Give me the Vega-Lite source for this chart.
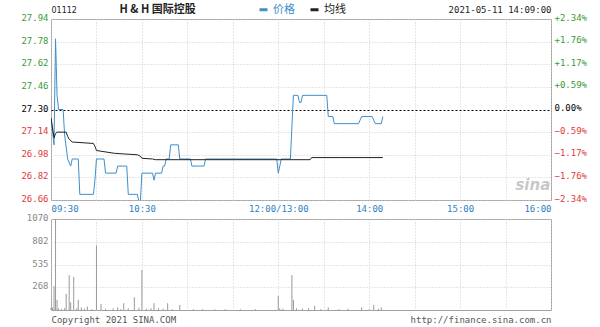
{
  "$schema": "https://vega.github.io/schema/vega-lite/v6.json",
  "background": "white",
  "padding": {"left": 20, "top": 2, "right": 0, "bottom": 0},
  "bounds": "flush",
  "spacing": 19,
  "config": {
    "view": {"stroke": "#a0a0a0", "strokeWidth": 1},
    "axis": {"domain": false, "ticks": false, "labelFont": "DejaVu Sans Mono", "labelFontSize": 9, "gridColor": "#cccccc", "gridDash": [1, 2], "title": null}
  },
  "datasets": {
    "price": [
      {"m": 0, "p": 27.24, "s": "价格"},
      {"m": 1, "p": 27.15, "s": "价格"},
      {"m": 2, "p": 27.05, "s": "价格"},
      {"m": 3, "p": 27.80, "s": "价格"},
      {"m": 4, "p": 27.40, "s": "价格"},
      {"m": 5, "p": 27.30, "s": "价格"},
      {"m": 8, "p": 27.30, "s": "价格"},
      {"m": 9, "p": 27.12, "s": "价格"},
      {"m": 11, "p": 26.95, "s": "价格"},
      {"m": 13, "p": 26.90, "s": "价格"},
      {"m": 14, "p": 26.95, "s": "价格"},
      {"m": 18, "p": 26.95, "s": "价格"},
      {"m": 19, "p": 26.70, "s": "价格"},
      {"m": 28, "p": 26.70, "s": "价格"},
      {"m": 29, "p": 26.80, "s": "价格"},
      {"m": 30, "p": 26.95, "s": "价格"},
      {"m": 35, "p": 26.95, "s": "价格"},
      {"m": 36, "p": 26.85, "s": "价格"},
      {"m": 43, "p": 26.85, "s": "价格"},
      {"m": 44, "p": 26.90, "s": "价格"},
      {"m": 50, "p": 26.90, "s": "价格"},
      {"m": 51, "p": 26.70, "s": "价格"},
      {"m": 57, "p": 26.70, "s": "价格"},
      {"m": 58, "p": 26.65, "s": "价格"},
      {"m": 59, "p": 26.65, "s": "价格"},
      {"m": 60, "p": 26.85, "s": "价格"},
      {"m": 67, "p": 26.85, "s": "价格"},
      {"m": 68, "p": 26.80, "s": "价格"},
      {"m": 69, "p": 26.85, "s": "价格"},
      {"m": 73, "p": 26.85, "s": "价格"},
      {"m": 74, "p": 26.90, "s": "价格"},
      {"m": 75, "p": 26.90, "s": "价格"},
      {"m": 76, "p": 26.95, "s": "价格"},
      {"m": 78, "p": 26.95, "s": "价格"},
      {"m": 79, "p": 27.05, "s": "价格"},
      {"m": 84, "p": 27.05, "s": "价格"},
      {"m": 85, "p": 26.95, "s": "价格"},
      {"m": 92, "p": 26.95, "s": "价格"},
      {"m": 93, "p": 26.90, "s": "价格"},
      {"m": 101, "p": 26.90, "s": "价格"},
      {"m": 102, "p": 26.95, "s": "价格"},
      {"m": 149, "p": 26.95, "s": "价格"},
      {"m": 150, "p": 26.85, "s": "价格"},
      {"m": 151, "p": 26.90, "s": "价格"},
      {"m": 152, "p": 26.95, "s": "价格"},
      {"m": 158, "p": 26.95, "s": "价格"},
      {"m": 159, "p": 27.18, "s": "价格"},
      {"m": 160, "p": 27.40, "s": "价格"},
      {"m": 163, "p": 27.40, "s": "价格"},
      {"m": 164, "p": 27.35, "s": "价格"},
      {"m": 165, "p": 27.35, "s": "价格"},
      {"m": 166, "p": 27.40, "s": "价格"},
      {"m": 182, "p": 27.40, "s": "价格"},
      {"m": 183, "p": 27.25, "s": "价格"},
      {"m": 186, "p": 27.25, "s": "价格"},
      {"m": 187, "p": 27.20, "s": "价格"},
      {"m": 203, "p": 27.20, "s": "价格"},
      {"m": 205, "p": 27.25, "s": "价格"},
      {"m": 212, "p": 27.25, "s": "价格"},
      {"m": 214, "p": 27.20, "s": "价格"},
      {"m": 218, "p": 27.20, "s": "价格"},
      {"m": 219, "p": 27.25, "s": "价格"},
      {"m": 0, "p": 27.24, "s": "均线"},
      {"m": 1, "p": 27.17, "s": "均线"},
      {"m": 2, "p": 27.10, "s": "均线"},
      {"m": 3, "p": 27.13, "s": "均线"},
      {"m": 4, "p": 27.14, "s": "均线"},
      {"m": 10, "p": 27.14, "s": "均线"},
      {"m": 11, "p": 27.11, "s": "均线"},
      {"m": 12, "p": 27.09, "s": "均线"},
      {"m": 14, "p": 27.07, "s": "均线"},
      {"m": 28, "p": 27.06, "s": "均线"},
      {"m": 29, "p": 27.04, "s": "均线"},
      {"m": 30, "p": 27.01, "s": "均线"},
      {"m": 42, "p": 26.99, "s": "均线"},
      {"m": 57, "p": 26.98, "s": "均线"},
      {"m": 59, "p": 26.97, "s": "均线"},
      {"m": 60, "p": 26.955, "s": "均线"},
      {"m": 67, "p": 26.95, "s": "均线"},
      {"m": 69, "p": 26.945, "s": "均线"},
      {"m": 171, "p": 26.945, "s": "均线"},
      {"m": 172, "p": 26.96, "s": "均线"},
      {"m": 219, "p": 26.96, "s": "均线"}
    ],
    "vol": [
      {"m": 0, "v": 25}, {"m": 1, "v": 30}, {"m": 2, "v": 280}, {"m": 3, "v": 1070},
      {"m": 4, "v": 120}, {"m": 5, "v": 20}, {"m": 7, "v": 15}, {"m": 9, "v": 20},
      {"m": 10, "v": 190}, {"m": 12, "v": 410}, {"m": 13, "v": 90}, {"m": 15, "v": 390},
      {"m": 17, "v": 20}, {"m": 18, "v": 120}, {"m": 20, "v": 30}, {"m": 22, "v": 15},
      {"m": 24, "v": 40}, {"m": 27, "v": 10}, {"m": 30, "v": 760}, {"m": 33, "v": 70},
      {"m": 36, "v": 15}, {"m": 41, "v": 20}, {"m": 44, "v": 30}, {"m": 46, "v": 10},
      {"m": 48, "v": 80}, {"m": 51, "v": 20}, {"m": 55, "v": 150}, {"m": 58, "v": 25},
      {"m": 60, "v": 470}, {"m": 63, "v": 15}, {"m": 66, "v": 20}, {"m": 68, "v": 80},
      {"m": 71, "v": 20}, {"m": 74, "v": 15}, {"m": 77, "v": 80}, {"m": 80, "v": 10},
      {"m": 85, "v": 60}, {"m": 94, "v": 10}, {"m": 100, "v": 10}, {"m": 108, "v": 8},
      {"m": 115, "v": 10}, {"m": 125, "v": 8}, {"m": 135, "v": 10}, {"m": 150, "v": 165},
      {"m": 151, "v": 20}, {"m": 153, "v": 15}, {"m": 159, "v": 410}, {"m": 160, "v": 120},
      {"m": 162, "v": 20}, {"m": 166, "v": 15}, {"m": 170, "v": 20}, {"m": 174, "v": 50},
      {"m": 178, "v": 10}, {"m": 183, "v": 30}, {"m": 190, "v": 10}, {"m": 196, "v": 15},
      {"m": 205, "v": 30}, {"m": 210, "v": 10}, {"m": 213, "v": 60}, {"m": 216, "v": 15},
      {"m": 218, "v": 30}
    ]
  },
  "vconcat": [
    {
      "width": 500,
      "height": 181,
      "layer": [
        {
          "data": {"name": "price"},
          "mark": {"type": "line", "strokeWidth": 1, "clip": true},
          "encoding": {
            "x": {
              "field": "m", "type": "quantitative",
              "scale": {"domain": [0, 330], "nice": false, "zero": false},
              "axis": {
                "orient": "bottom",
                "values": [0, 30, 60, 90, 120, 150, 180, 210, 240, 270, 300, 330],
                "labelExpr": "datum.value==0?'09:30':datum.value==60?'10:30':datum.value==150?'12:00/13:00':datum.value==210?'14:00':datum.value==270?'15:00':datum.value==330?'16:00':''",
                "labelFlush": true, "labelOverlap": false, "labelColor": "#2f80c0", "labelPadding": 4, "grid": true
              }
            },
            "y": {
              "field": "p", "type": "quantitative",
              "scale": {"domain": [26.66, 27.94], "nice": false, "zero": false},
              "axis": {
                "orient": "left",
                "values": [26.66, 26.82, 26.98, 27.14, 27.3, 27.46, 27.62, 27.78, 27.94],
                "labelExpr": "format(datum.value, '.2f')",
                "labelColor": {"condition": [{"test": "datum.value > 27.305", "value": "#3a9a3a"}, {"test": "datum.value < 27.295", "value": "#e03a3a"}], "value": "#000000"},
                "grid": true,
                "gridColor": {"condition": {"test": "abs(datum.value-27.3)<0.001", "value": "#000000"}, "value": "#cccccc"},
                "gridDash": {"condition": {"test": "abs(datum.value-27.3)<0.001", "value": [2, 2]}, "value": [1, 2]},
                "labelPadding": 3, "labelOffset": -1.5, "labelOverlap": false
              }
            },
            "color": {
              "field": "s", "type": "nominal",
              "scale": {"domain": ["价格", "均线"], "range": ["#3d8fca", "#222222"]},
              "legend": {
                "orient": "none", "legendX": 207, "legendY": -15, "direction": "horizontal", "title": null,
                "symbolType": "stroke", "symbolStrokeWidth": 3, "symbolSize": 64,
                "labelFont": "Noto Sans CJK SC", "labelFontSize": 11, "labelOffset": 4, "columnPadding": 9,
                "encode": {"labels": {"update": {"fill": {"signal": "datum.label === '价格' ? '#3d8fca' : '#222222'"}}}}
              }
            }
          }
        },
        {
          "data": {"values": [{}]},
          "mark": {"type": "text", "text": "sina", "fontStyle": "italic", "fontWeight": "bold", "fontSize": 15, "font": "DejaVu Sans", "color": "#c8c8c8"},
          "encoding": {
            "x": {
              "datum": 318, "type": "quantitative",
              "axis": {
                "orient": "top", "values": [0, 70, 330], "grid": false,
                "labelExpr": "datum.value==0?'01112':datum.value==70?'H & H 国际控股':'2021-05-11 14:09:00'",
                "labelFlush": true, "labelOverlap": false, "labelPadding": 5, "labelColor": "#222222",
                "labelFont": {"condition": [{"test": "datum.value==70", "value": "Noto Sans CJK SC"}, {"test": "datum.value==0", "value": "DejaVu Sans"}], "value": "DejaVu Sans Mono"},
                "labelFontSize": {"condition": [{"test": "datum.value==70", "value": 11}, {"test": "datum.value==0", "value": 8}], "value": 9},
                "labelFontWeight": {"condition": {"test": "datum.value==70", "value": "bold"}, "value": "normal"}
              }
            },
            "y": {
              "datum": 26.765, "type": "quantitative",
              "axis": {
                "orient": "right",
                "values": [26.66, 26.82, 26.98, 27.14, 27.3, 27.46, 27.62, 27.78, 27.94],
                "labelExpr": "abs(datum.value-27.3)<0.001 ? '0.00%' : (datum.value > 27.3 ? '+' : '') + format((datum.value/27.3-1)*100, '.2f') + '%'",
                "labelColor": {"condition": [{"test": "datum.value > 27.305", "value": "#3a9a3a"}, {"test": "datum.value < 27.295", "value": "#e03a3a"}], "value": "#000000"},
                "grid": false, "labelPadding": 3, "labelOffset": -2, "labelOverlap": false
              }
            }
          }
        }
      ],
      "resolve": {"axis": {"x": "independent", "y": "independent"}}
    },
    {
      "width": 500,
      "height": 91,
      "data": {"name": "vol"},
      "mark": {"type": "rule", "color": "#999999", "strokeWidth": 1},
      "encoding": {
        "x": {
          "field": "m", "type": "quantitative",
          "scale": {"domain": [0, 330], "nice": false, "zero": false},
          "axis": {
            "orient": "bottom",
            "values": [0, 30, 60, 90, 120, 150, 180, 210, 240, 270, 300, 330],
            "labelExpr": "datum.value==0?'Copyright 2021 SINA.COM':datum.value==330?'http://finance.sina.com.cn':''",
            "labelFlush": true, "labelOverlap": false, "labelColor": "#555555", "labelPadding": 5, "grid": true
          }
        },
        "y": {
          "field": "v", "type": "quantitative",
          "scale": {"domain": [0, 1070], "nice": false},
          "axis": {"values": [268, 535, 802, 1070], "labelExpr": "format(datum.value, 'd')", "labelColor": "#888888", "grid": true, "labelPadding": 3, "labelOffset": -1.5, "labelOverlap": false}
        },
        "y2": {"datum": 0}
      }
    }
  ]
}
